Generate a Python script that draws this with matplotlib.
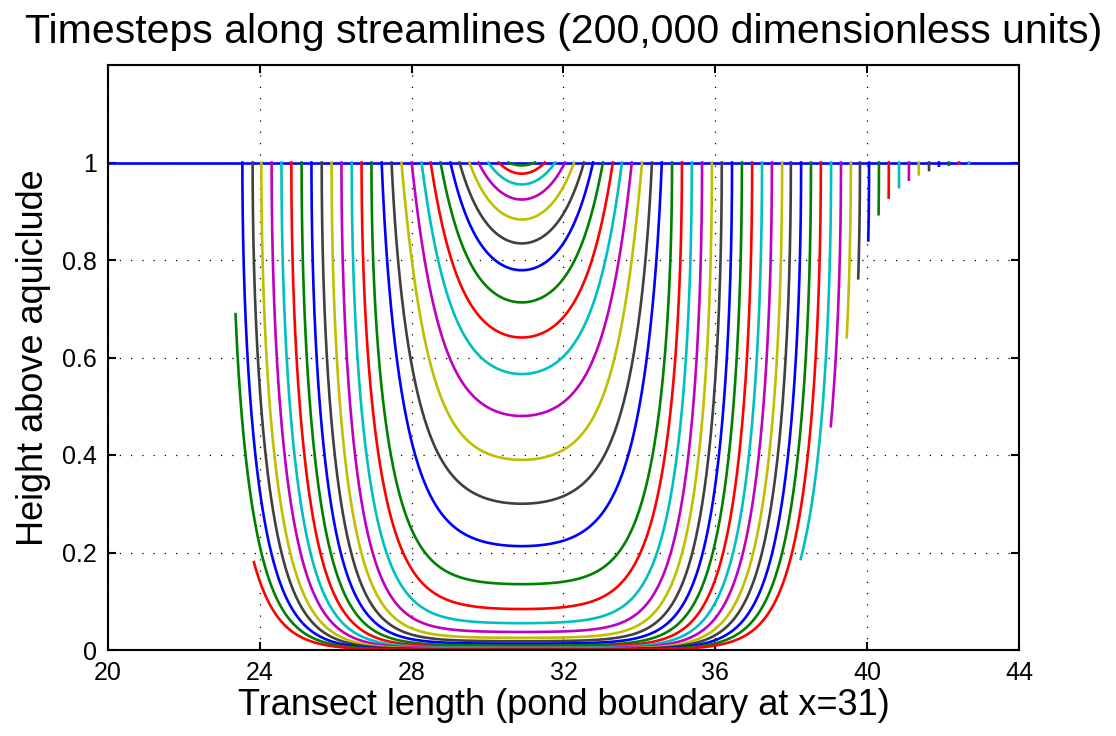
import numpy as np
import matplotlib
matplotlib.use("Agg")
import matplotlib.pyplot as plt

plt.rcParams["font.family"] = ["Liberation Sans", "DejaVu Sans"]

# ── data ─────────────────────────────────────────────────────────────────────
# x where every streamline bottoms out (just left of the pond boundary)
x_centre = 30.9

# where each streamline leaves the surface on the release side, inner -> outer
x_release = [31.25, 31.51, 31.78, 32.04, 32.28, 32.54, 32.78, 33.04, 33.30, 33.54,
             33.80, 34.07, 34.33, 34.59, 34.86, 35.12, 35.38, 35.65, 35.91, 36.17,
             36.44, 36.70, 36.97, 37.23, 37.49, 37.76, 37.99, 38.26, 38.52, 38.78,
             39.05, 39.31, 39.57, 39.81, 40.05, 40.31, 40.57, 40.84, 41.10, 41.36,
             41.63, 41.89, 42.15, 42.42, 42.68, 42.94, 43.21, 43.47, 43.74]

# lowest height under the centre for the paths that get that far
y_lowest = [0.994, 0.977, 0.955, 0.924, 0.883, 0.834, 0.779, 0.713, 0.641, 0.566,
            0.480, 0.390, 0.300, 0.213, 0.135, 0.084, 0.055, 0.037, 0.025, 0.018,
            0.013, 0.009, 0.0065, 0.0046, 0.0033, 0.0024, 0.0017, 0.0012, 0.0009, 0.0006]

# paths 29, 30 stop on the way back up (left side), height where they stop
y_stop_left = {29: 0.689, 30: 0.181}
# paths 31.. stop on the way down (right side)
y_stop_right = [0.186, 0.459, 0.641, 0.762, 0.840, 0.893, 0.926, 0.949, 0.963, 0.975,
                0.984, 0.992, 0.994, 0.996, 0.997, 0.998, 0.998, 0.999, 0.999]

x_ticks = [20, 24, 28, 32, 36, 40, 44]
y_ticks = [0, 0.2, 0.4, 0.6, 0.8, 1]
y_tick_labels = ["0", "0.2", "0.4", "0.6", "0.8", "1"]

# old MATLAB line colour order
colours = [(0, 0, 1), (0, 0.5, 0), (1, 0, 0), (0, 0.75, 0.75),
           (0.75, 0, 0.75), (0.75, 0.75, 0), (0.25, 0.25, 0.25)]

# path shape vs. depth of the path: horizontal decay rate and how fast it
# turns vertical near the surface
depth_knots = [0.0, 0.45, 0.61, 0.70, 0.79, 0.865, 0.92, 0.97, 1.0]
k_knots = [1.3, 1.3, 1.42, 1.32, 1.37, 1.49, 1.47, 1.65, 1.55]
beta_knots = [0.0, 0.0, 0.0, 0.7, 0.7, 1.0, 1.0, 1.0, 1.0]


def path_branch(half_width, depth):
    """one side of a U path: offset from centre and height, bottom -> top"""
    k = np.interp(depth, depth_knots, k_knots)
    beta = np.interp(depth, depth_knots, beta_knots)
    a = k * half_width
    t = np.linspace(0, 1, 900)
    v = t ** 2
    if beta < 1e-3:
        g = v
    else:
        g = np.sin(beta * np.pi / 2 * v) / np.sin(beta * np.pi / 2)
    u = np.arccosh(1 + g * (np.cosh(a) - 1)) / a
    return half_width * u, (1 - depth) + depth * v


fig = plt.figure(figsize=(11.16, 7.36), dpi=100)
ax = fig.add_axes([108 / 1116, 1 - 650 / 736, 911 / 1116, 585 / 736])

lw = 1.9
ax.plot([20, 44], [1, 1], color=colours[0], lw=lw, solid_capstyle="butt")

for n, xr in enumerate(x_release, start=1):
    hw = xr - x_centre
    ylow = y_lowest[n - 1] if n <= len(y_lowest) else 0.0004
    off, yy = path_branch(hw, 1 - ylow)
    col = colours[n % 7]
    if n <= 30:
        left_x, left_y = x_centre - off, yy
        if n in y_stop_left:
            keep = yy <= y_stop_left[n]
            left_x, left_y = left_x[keep], left_y[keep]
        # right branch down, then left branch up
        xs = np.concatenate([(x_centre + off)[::-1], left_x])
        ys = np.concatenate([yy[::-1], left_y])
    else:
        keep = yy >= y_stop_right[n - 31]
        xs, ys = x_centre + off[keep], yy[keep]
    ax.plot(xs, ys, color=col, lw=lw)

ax.set_xlim(20, 44)
ax.set_ylim(0, 1.2)
ax.set_xticks(x_ticks)
ax.set_yticks(y_ticks)
ax.set_yticklabels(y_tick_labels)
ax.grid(True, color="k", linestyle=(0, (1, 8)), linewidth=0.9)
ax.set_axisbelow(True)
for s in ax.spines.values():
    s.set_linewidth(1.5)
ax.tick_params(direction="in", length=6, width=1.5, top=True, right=True,
               labelsize=18, pad=8)

ax.set_title("Timesteps along streamlines (200,000 dimensionless units)",
             fontsize=29.5, pad=16)
ax.set_xlabel("Transect length (pond boundary at x=31)", fontsize=26, labelpad=2)
ax.set_ylabel("Height above aquiclude", fontsize=26, labelpad=8)

fig.savefig("out.png", dpi=100)
